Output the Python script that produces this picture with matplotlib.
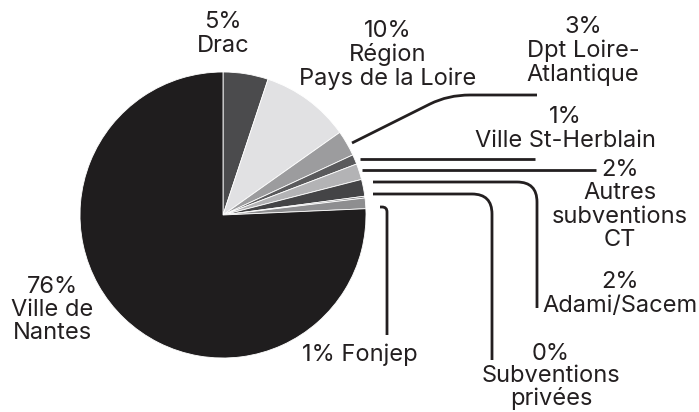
import matplotlib.pyplot as plt
from matplotlib.path import Path
from matplotlib.patches import PathPatch

# --- data ---
sources = ['Drac', 'Région\nPays de la Loire', 'Dpt Loire-\nAtlantique', 'Ville St-Herblain',
           'Autres\nsubventions\nCT', 'Adami/Sacem', 'Subventions\nprivées', 'Fonjep',
           'Ville de\nNantes']
shares = [5.1, 10.1, 2.9, 1.1, 1.8, 1.9, 0.2, 1.2, 75.7]
pct_labels = ['5%', '10%', '3%', '1%', '2%', '2%', '0%', '1%', '76%']
colors = ['#4b4b4d', '#e1e1e3', '#9c9c9e', '#5a5a5c', '#b3b3b5', '#444446',
          '#777779', '#8e8e90', '#1f1d1e']

# --- layout (pixel coords, y down) ---
label_pos = [(223, 34), (388, 55), (583, 51), (565, 129), (620, 205),
             (620, 294), (551, 377), (360, 355), (52, 310)]
ink = '#231f20'

plt.rcParams['font.family'] = ['Inter', 'DejaVu Sans']

fig = plt.figure(figsize=(6.99, 4.12), dpi=100)
ax = fig.add_axes([0, 0, 1, 1])
ax.pie(shares, colors=colors, startangle=-90, counterclock=True,
       center=(223, 215), radius=143,
       wedgeprops=dict(edgecolor='white', linewidth=0.6))
ax.set_xlim(0, 699)
ax.set_ylim(412, 0)
ax.set_aspect('equal')
ax.axis('off')

# --- leader lines ---
def leader(pts, corner=None):
    # straight line, or line with one rounded corner (a -> c -> b)
    verts, codes = list(pts), [Path.MOVETO, Path.LINETO]
    if corner is not None:
        a, c, b = corner
        verts = [pts[0], a, c, b, pts[-1]]
        codes = [Path.MOVETO, Path.LINETO, Path.CURVE3, Path.CURVE3, Path.LINETO]
    ax.add_patch(PathPatch(Path(verts, codes), fill=False, edgecolor=ink,
                           linewidth=2.0, capstyle='butt'))

leader([(352, 143), (537, 95)], corner=((430, 104), (448, 95), (470, 95)))
leader([(360, 159), (535, 159)])
leader([(362, 170), (596, 170)])
leader([(373, 182), (537, 308)], corner=((517, 182), (537, 182), (537, 202)))
leader([(373, 194), (492, 360)], corner=((472, 194), (492, 194), (492, 214)))
leader([(380, 207), (387, 335)], corner=((382, 207), (387, 207), (387, 212)))

# --- labels ---
for name, pct, (x, y) in zip(sources, pct_labels, label_pos):
    txt = pct + ' ' + name if name == 'Fonjep' else pct + '\n' + name
    ls = 1.0 if name.startswith('Subventions') else 1.07
    ax.text(x, y, txt, ha='center', va='center', fontsize=17,
            color=ink, linespacing=ls)

fig.savefig('out.png', dpi=100, facecolor='white')
